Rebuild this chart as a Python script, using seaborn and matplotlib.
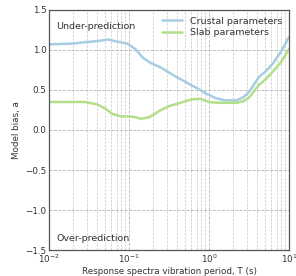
import matplotlib
matplotlib.use("Agg")
import matplotlib.pyplot as plt
import seaborn as sns
import pandas as pd
import numpy as np

periods_crustal = [0.01, 0.02, 0.03, 0.04, 0.055, 0.075, 0.095, 0.12, 0.15, 0.185, 0.25,
                   0.35, 0.45, 0.6, 0.72, 0.9, 1.2, 1.6, 2.2, 2.7, 3.2, 4.2, 5.2, 6.3, 8.0, 10.0]
bias_crustal = [1.07, 1.08, 1.10, 1.11, 1.13, 1.10, 1.08, 1.01, 0.90, 0.84, 0.78,
                0.69, 0.63, 0.56, 0.52, 0.46, 0.40, 0.37, 0.37, 0.41, 0.48, 0.66, 0.74, 0.83, 0.98, 1.16]

periods_slab = [0.01, 0.02, 0.028, 0.04, 0.05, 0.062, 0.08, 0.1, 0.12, 0.14, 0.18, 0.25,
                0.32, 0.44, 0.59, 0.78, 1.0, 1.3, 1.8, 2.2, 2.7, 3.2, 4.2, 5.2, 6.3, 8.0, 10.0]
bias_slab = [0.35, 0.35, 0.35, 0.32, 0.27, 0.20, 0.17, 0.17, 0.16, 0.14, 0.16, 0.25,
             0.30, 0.34, 0.38, 0.39, 0.35, 0.34, 0.34, 0.34, 0.36, 0.41, 0.56, 0.64, 0.73, 0.85, 1.01]

series_names = ["Crustal parameters", "Slab parameters"]
series_colors = ["#a6cee3", "#b2df8a"]

df = pd.concat([
    pd.DataFrame({"T": periods_crustal, "bias": bias_crustal, "series": series_names[0]}),
    pd.DataFrame({"T": periods_slab, "bias": bias_slab, "series": series_names[1]}),
])

sns.set_style("white")
plt.rcParams["font.family"] = ["DejaVu Sans"]

fig = plt.figure(figsize=(2.96, 2.76), dpi=100)
ax = fig.add_axes([0.166, 0.094, 0.81, 0.87])

sns.lineplot(data=df, x="T", y="bias", hue="series", palette=series_colors,
             linewidth=1.8, ax=ax, sort=True)

ax.set_xscale("log")
ax.set_xlim(0.01, 10)
ax.set_ylim(-1.5, 1.5)
ax.set_yticks([-1.5, -1.0, -0.5, 0.0, 0.5, 1.0, 1.5])
ax.grid(True, which="major", linestyle="--", color="#b5b5b5", linewidth=0.6)
ax.grid(True, which="minor", linestyle="--", color="#c8c8c8", linewidth=0.5)
ax.tick_params(axis="both", which="both", direction="in", labelsize=6.3, colors="#333333",
               length=2, pad=2)
ax.tick_params(axis="both", which="major", length=3)
for s in ax.spines.values():
    s.set_color("#555555")
    s.set_linewidth(0.9)

ax.set_xlabel("Response spectra vibration period, T (s)", fontsize=6.3, color="#333333",
              labelpad=1)
ax.set_ylabel("Model bias, a", fontsize=6.3, color="#333333", labelpad=3)

ax.text(0.03, 0.95, "Under-prediction", transform=ax.transAxes, fontsize=6.8,
        color="#333333", va="top", ha="left")
ax.text(0.03, 0.03, "Over-prediction", transform=ax.transAxes, fontsize=6.8,
        color="#333333", va="bottom", ha="left")

leg = ax.legend(loc="upper right", frameon=False, fontsize=6.8, handlelength=2.2,
                borderaxespad=0.3, labelspacing=0.3)
for t in leg.get_texts():
    t.set_color("#333333")

fig.savefig("out.png", dpi=100)
